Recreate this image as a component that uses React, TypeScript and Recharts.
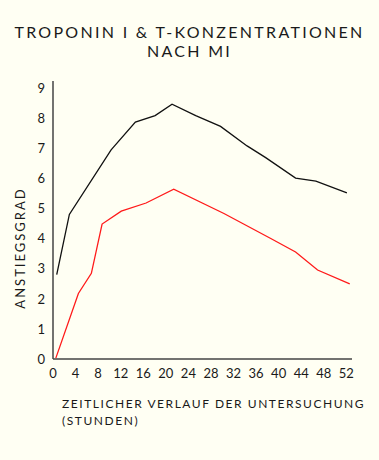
import React from 'react';
import { LineChart, Line, XAxis, YAxis } from 'recharts';

// hours / values
const blackHours = [0.66, 2.9, 10.3, 14.6, 18.1, 21.1, 25.3, 29.7, 34.4, 37.7, 43.0, 46.6, 52.1];
const blackValues = [2.81, 4.81, 6.96, 7.88, 8.1, 8.48, 8.1, 7.74, 7.09, 6.7, 6.02, 5.92, 5.53];
const redHours = [0.5, 4.5, 6.8, 8.7, 12.1, 16.5, 21.4, 30.3, 38.6, 43.0, 46.9, 52.6];
const redValues = [0.03, 2.18, 2.85, 4.49, 4.92, 5.19, 5.65, 4.84, 4.01, 3.56, 2.96, 2.5];
const xTicks = [0, 4, 8, 12, 16, 20, 24, 28, 32, 36, 40, 44, 48, 52];
const yTicks = [0, 1, 2, 3, 4, 5, 6, 7, 8, 9];

const blackData = blackHours.map((h, i) => ({ h, v: blackValues[i] }));
const redData = redHours.map((h, i) => ({ h, v: redValues[i] }));

const font = 'Lato, "Open Sans", sans-serif';
const ink = '#1a1a1a';

const titleLine: React.CSSProperties = {
  position: 'absolute', left: 0, width: 379, height: 18, textAlign: 'center',
  fontSize: 16, letterSpacing: 2.3, lineHeight: '18px',
};

export default function App() {
  return (
    <div style={{ position: 'absolute', top: 0, left: 0, width: 379, height: 460, background: '#fffff3', fontFamily: font, color: ink }}>
      <div style={{ ...titleLine, top: 23 }}>TROPONIN I &amp; T-KONZENTRATIONEN</div>
      <div style={{ ...titleLine, top: 42 }}>NACH MI</div>
      <LineChart width={379} height={460} data={blackData} margin={{ top: 81, right: 27, bottom: 71, left: 0 }}>
        <XAxis
          dataKey="h"
          type="number"
          domain={[0, 53]}
          ticks={xTicks}
          interval={0}
          tickLine={false}
          axisLine={{ stroke: '#444', strokeWidth: 1.5 }}
          tick={{ fontSize: 13, fill: ink, fontFamily: font }}
          tickMargin={4}
          height={30}
        />
        <YAxis
          type="number"
          domain={[0, 9.25]}
          ticks={yTicks}
          interval={0}
          tickLine={false}
          axisLine={{ stroke: '#444', strokeWidth: 1.5 }}
          tick={{ fontSize: 13, fill: ink, fontFamily: font }}
          width={53}
        />
        <Line data={blackData} dataKey="v" stroke="#111" strokeWidth={1.3} dot={false} isAnimationActive={false} />
        <Line data={redData} dataKey="v" stroke="#ff1a1a" strokeWidth={1.3} dot={false} isAnimationActive={false} />
      </LineChart>
      <div style={{ position: 'absolute', top: 395, left: 62, fontSize: 12, letterSpacing: 1.55, lineHeight: '17px' }}>
        ZEITLICHER VERLAUF DER UNTERSUCHUNG<br />(STUNDEN)
      </div>
      <div style={{ position: 'absolute', left: 20, top: 248, transform: 'translate(-50%, -50%) rotate(-90deg)', fontSize: 13, letterSpacing: 2, whiteSpace: 'nowrap' }}>
        ANSTIEGSGRAD
      </div>
    </div>
  );
}
